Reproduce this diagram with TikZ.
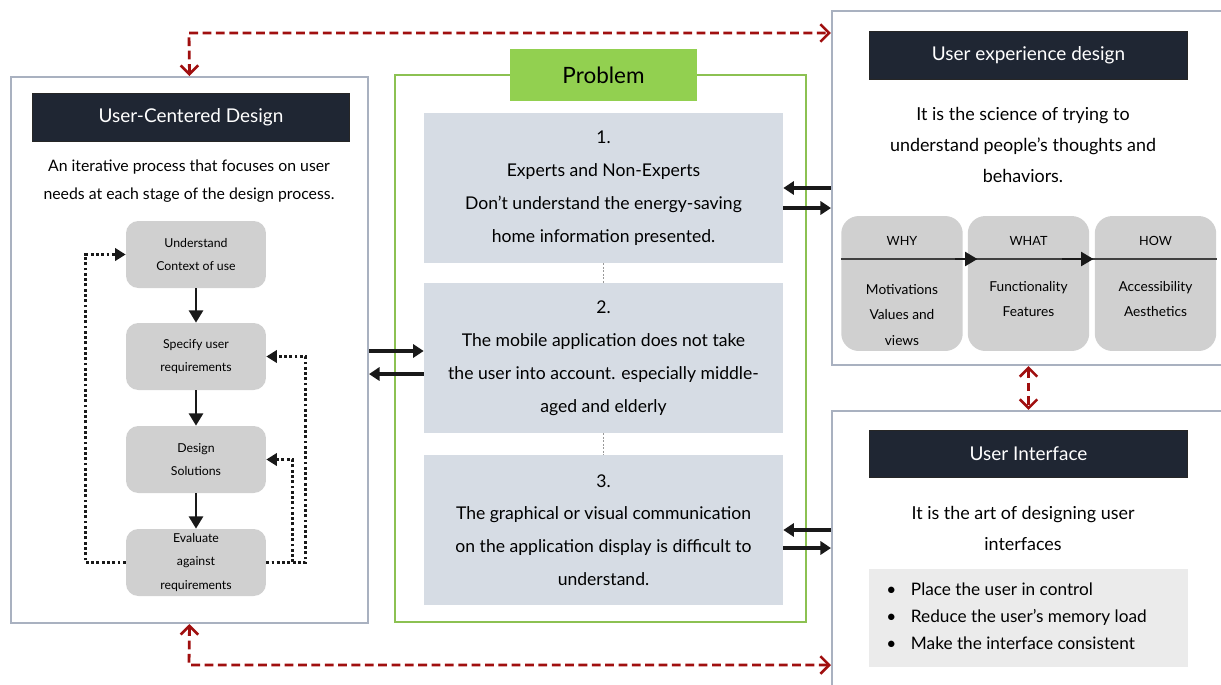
\documentclass[tikz,border=0pt]{standalone}
\usepackage{fontspec}
\setmainfont{Lato}
\usetikzlibrary{positioning,arrows.meta}
\definecolor{titlebg}{HTML}{1F2633}
\definecolor{panelgray}{HTML}{A9B1C0}
\definecolor{probgreen}{HTML}{8CC152}
\definecolor{problabel}{HTML}{92D050}
\definecolor{probblue}{HTML}{D6DCE4}
\definecolor{flowgray}{HTML}{D0D0D0}
\definecolor{listgray}{HTML}{EBEBEB}
\definecolor{darkred}{HTML}{A00F0F}
\tikzset{
panel/.style={rectangle,draw=panelgray,line width=1.2pt,fill=white,inner sep=0pt},
greenpanel/.style={rectangle,draw=probgreen,line width=1.3pt,inner sep=0pt},
titlebar/.style={rectangle,fill=titlebg,draw=black!85,line width=0.6pt,text=white,
  font=\fontsize{10.8}{12}\selectfont,minimum width=6.36cm,minimum height=0.95cm},
desc/.style={align=center,inner sep=0pt,font=\fontsize{10.2}{17.6}\selectfont},
flowbox/.style={rectangle,rounded corners=7pt,fill=flowgray,minimum width=2.8cm,
  minimum height=1.34cm,align=center,inner sep=0pt,font=\fontsize{7}{13.4}\selectfont},
probbox/.style={rectangle,fill=probblue,minimum width=7.18cm,minimum height=3cm,
  align=center,inner sep=0pt,font=\fontsize{10}{18.7}\selectfont},
uxbox/.style={rectangle,rounded corners=10pt,fill=flowgray,minimum width=2.43cm,
  minimum height=2.7cm,inner sep=0pt},
uxhead/.style={font=\fontsize{7.2}{8}\selectfont,inner sep=0pt},
uxbody/.style={align=center,inner sep=0pt,font=\fontsize{7.8}{14.5}\selectfont},
flowarrow/.style={-{Triangle[length=7pt,width=8pt]},line width=1.5pt,black!90},
loopline/.style={-{Triangle[length=6pt,width=7pt]},line width=1.6pt,black!90,
  dash pattern=on 1.6pt off 1.4pt},
blk/.style={-{Triangle[length=6pt,width=7.5pt]},line width=2.2pt,black!90},
redline/.style={{Straight Barb[length=5pt,width=10pt,line width=1.5pt]}-{Straight Barb[length=5pt,width=10pt,line width=1.5pt]},
  line width=1.6pt,darkred,dash pattern=on 5pt off 2.6pt},
sep/.style={draw=black!40,line width=0.6pt,dash pattern=on 1pt off 1pt},
}
\begin{document}
\begin{tikzpicture}[x=0.02cm,y=-0.02cm]
\useasboundingbox (0,0) rectangle (1221,684);
\clip (0,0) rectangle (1221,684);

\node[panel,minimum width=7.14cm,minimum height=10.92cm] (ucd) at (189.5,350) {};
\node[titlebar] (ucdt) at (191,117.5) {User-Centered Design};
\node[desc,font=\fontsize{9}{15.9}\selectfont] (ucdd) at (189,181) {An iterative process that focuses on user\\needs at each stage of the design process.};
\node[flowbox] (und) at (196,254.5) {Understand\\Context of use};
\node[flowbox] (spec) at (196,356.5) {Specify user\\requirements};
\node[flowbox] (des) at (196,459.5) {Design\\Solutions};
\node[flowbox] (eval) at (196,562.5) {Evaluate\\against\\requirements};

\node[greenpanel,minimum width=8.22cm,minimum height=10.94cm] (prob) at (600.5,348.5) {};
\node[rectangle,fill=problabel,minimum width=3.74cm,minimum height=1.04cm,
  font=\fontsize{12.8}{14}\selectfont] (probt) at (603.5,75) {Problem};
\node[probbox] (p1) at (603.5,188) {1.\\Experts and Non-Experts\\Don't understand the energy-saving\\home information presented.};
\node[probbox] (p2) at (603.5,358) {2.\\The mobile application does not take\\the user into account. especially middle-\\aged and elderly};
\node[probbox] (p3) at (603.5,530) {3.\\The graphical or visual communication\\on the application display is difficult to\\understand.};

\node[panel,minimum width=7.96cm,minimum height=7.08cm] (ux) at (1031,188) {};
\node[titlebar] (uxt) at (1028.5,55.5) {User experience design};
\node[desc] (uxd) at (1023,145) {It is the science of trying to\\understand people's thoughts and\\behaviors.};
\node[uxbox] (why) at (902,283.5) {};
\node[uxbox] (what) at (1028.5,283.5) {};
\node[uxbox] (how) at (1155.5,283.5) {};
\node[uxhead] (whyh) at (902,241) {WHY};
\node[uxhead] (whath) at (1028.5,241) {WHAT};
\node[uxhead] (howh) at (1155.5,241) {HOW};
\node[uxbody] (whyb) at (902,315) {Motivations\\Values and\\views};
\node[uxbody] (whatb) at (1028.5,299) {Functionality\\Features};
\node[uxbody] (howb) at (1155.5,299) {Accessibility\\Aesthetics};

\node[panel,minimum width=7.96cm,minimum height=5.78cm] (ui) at (1031,555.5) {};
\node[titlebar] (uit) at (1028.5,454) {User Interface};
\node[desc] (uid) at (1023,528.5) {It is the art of designing user\\interfaces};
\node[rectangle,fill=listgray,minimum width=6.38cm,minimum height=1.96cm] (uil) at (1028.5,618) {};
\node[anchor=west,align=left,inner sep=0pt,font=\fontsize{9.8}{15.3}\selectfont] (uilt) at (886,616)
  {\makebox[14pt][l]{\textbullet}Place the user in control\\
   \makebox[14pt][l]{\textbullet}Reduce the user’s memory load\\
   \makebox[14pt][l]{\textbullet}Make the interface consistent};

\coordinate (rt) at (189,33);
\coordinate (rb) at (189,665);

\draw[flowarrow] (und) -- (spec);
\draw[flowarrow] (spec) -- (des);
\draw[flowarrow] (des) -- (eval);
\draw[loopline] (eval.west) -- ++(-40,0) |- (und.west);
\draw[loopline] (eval.east) -- ++(39,0) |- (spec.east);
\draw[loopline] (eval.east) -- ++(26,0) |- (des.east);

\path[sep] (p1.south) -- (p2.north) (p2.south) -- (p3.north);

\draw[line width=0.9pt,black!75] (why.west |- 0,259) -- (how.east |- 0,259);
\draw[flowarrow,line width=1.2pt] ([xshift=-0.16cm]why.east |- 0,259) -- ([xshift=0.2cm]what.west |- 0,259);
\draw[flowarrow,line width=1.2pt] ([xshift=-0.56cm]what.east |- 0,259) -- ([xshift=-0.02cm]how.west |- 0,259);

\draw[blk] (ucd.east |- 0,351) -- (p2.west |- 0,351);
\draw[blk] (p2.west |- 0,374) -- (ucd.east |- 0,374);
\draw[blk] (ux.west |- 0,188) -- (p1.east |- 0,188);
\draw[blk] (p1.east |- 0,208) -- (ux.west |- 0,208);
\draw[blk] (ui.west |- 0,530) -- (p3.east |- 0,530);
\draw[blk] (p3.east |- 0,548) -- (ui.west |- 0,548);

\draw[redline] (ucd.north) -- (rt) -- (rt -| ux.west);
\draw[redline] (ucd.south) -- (rb) -- (rb -| ui.west);
\draw[redline] (ux.south -| uxt) -- (ui.north -| uxt);
\end{tikzpicture}
\end{document}
